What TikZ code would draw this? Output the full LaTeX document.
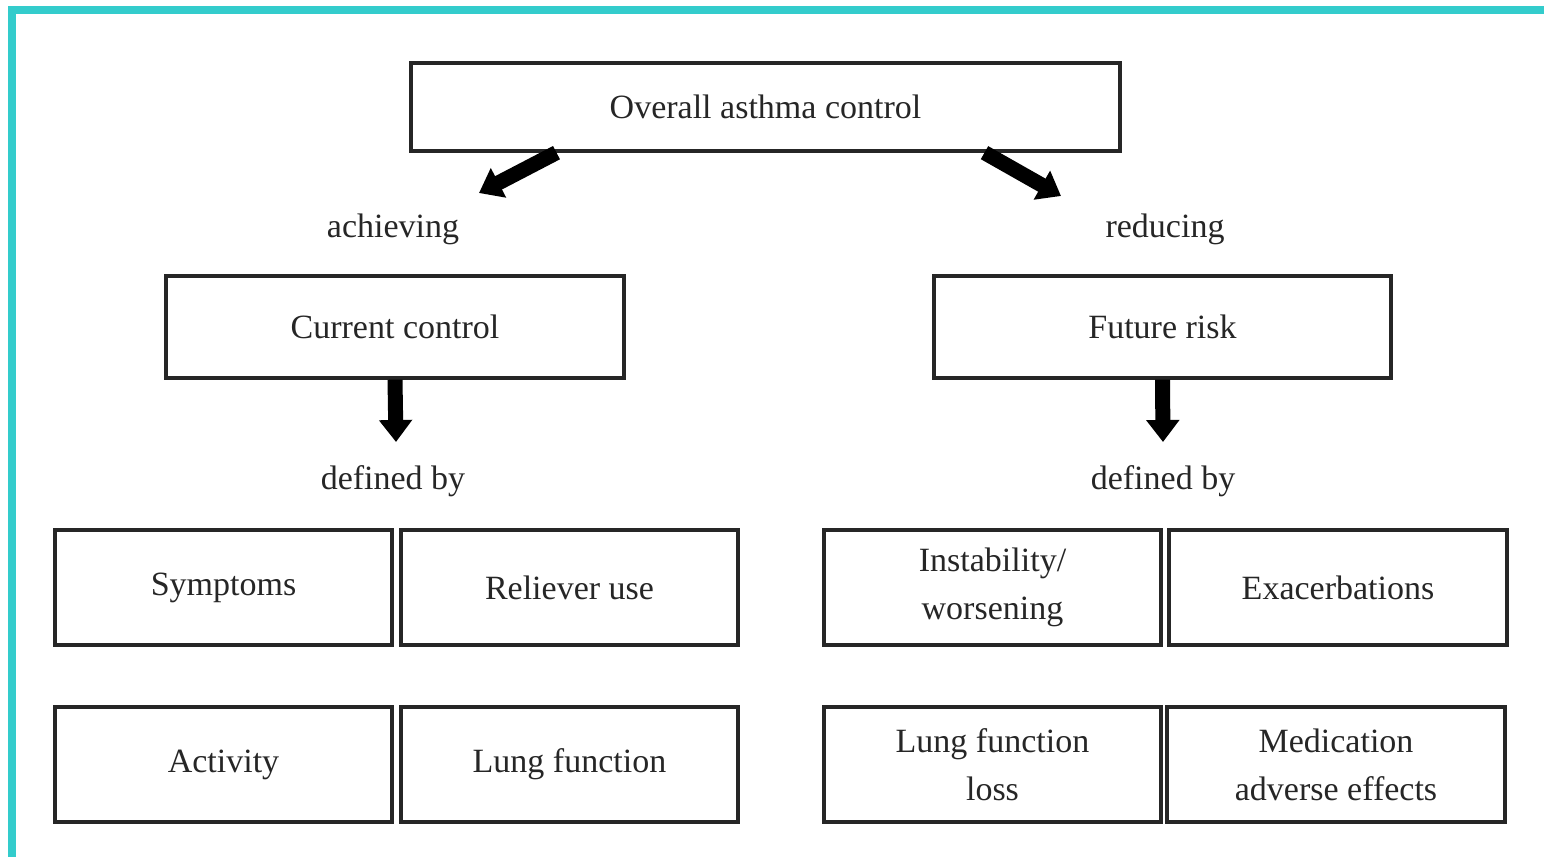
\documentclass[tikz,border=0pt]{standalone}
\usepackage{fontspec}
\setmainfont{Liberation Serif}
\usetikzlibrary{arrows.meta}
\definecolor{teal1}{RGB}{51,204,204}
\begin{document}
\begin{tikzpicture}[x=1pt,y=-1pt,
  box/.style={draw=black!85, line width=3.3pt, fill=white, rectangle, inner sep=0pt, align=center, font=\fontsize{34}{48}\selectfont, text=black!85},
  lbl/.style={inner sep=0pt, font=\fontsize{34}{40}\selectfont, text=black!85},
  fatarrow/.style={line width=15pt, black, -{Triangle[length=22pt,width=32pt]}}]
\useasboundingbox (0,0) rectangle (1544,857);
\fill[white] (0,0) rectangle (1544,857);
% teal frame
\fill[teal1] (8,6) rectangle (1544,14);
\fill[teal1] (8,6) rectangle (16,857);
% top
\node[box, minimum width=709pt, minimum height=88pt] (top) at (765.5,107) {Overall asthma control};
\node[lbl] (ach) at (393,229) {achieving};
\node[lbl] (red) at (1165,229) {reducing};
\node[box, minimum width=458pt, minimum height=102pt] (cur) at (395,327) {Current control};
\node[box, minimum width=457pt, minimum height=102pt] (fut) at (1162.5,327) {Future risk};
\node[lbl] (defl) at (393,481) {defined by};
\node[lbl] (defr) at (1163,481) {defined by};
% row 1
\node[box, minimum width=337pt, minimum height=115pt] (sym) at (223.5,587.5) {Symptoms};
\node[box, minimum width=337pt, minimum height=115pt] (rel) at (569.5,587.5) {Reliever use};
\node[box, minimum width=337pt, minimum height=115pt] (ins) at (992.5,587.5) {Instability/\\worsening};
\node[box, minimum width=338pt, minimum height=115pt] (exa) at (1338,587.5) {Exacerbations};
% row 2
\node[box, minimum width=337pt, minimum height=115pt] (act) at (223.5,764.5) {Activity};
\node[box, minimum width=337pt, minimum height=115pt] (lung) at (569.5,764.5) {Lung function};
\node[box, minimum width=337pt, minimum height=115pt] (lfl) at (992.5,764.5) {Lung function\\loss};
\node[box, minimum width=338pt, minimum height=115pt] (med) at (1336,764.5) {Medication\\adverse effects};
% arrows
\coordinate (achtip) at (479,193);
\coordinate (redtip) at (1061,196);
\coordinate (curtip) at (396,442);
\coordinate (futtip) at (1163,442);
\draw[fatarrow] ([xshift=-209pt]top.south) -- (achtip);
\draw[fatarrow] ([xshift=219pt]top.south) -- (redtip);
\draw[fatarrow] (cur.south) -- (curtip);
\draw[fatarrow] (fut.south) -- (futtip);
\end{tikzpicture}
\end{document}
